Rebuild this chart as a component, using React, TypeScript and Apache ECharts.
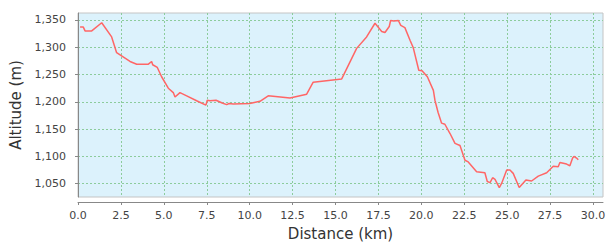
import React, { useEffect, useRef } from "react";
import * as echarts from "echarts";

const distanceKm = [
  0.12, 0.31, 0.41, 0.8, 1.38, 1.96, 2.25, 3.03, 3.42, 4.1, 4.29, 4.35, 4.62, 4.87, 5.26, 5.55, 5.65, 5.94, 6.33, 6.91,
  7.45, 7.53, 7.69, 8.04, 8.4, 8.66, 8.8, 9.04, 10.0, 10.6, 11.08, 12.35, 13.32, 13.7, 15.36, 16.23, 16.81, 17.3, 17.69,
  17.88, 18.13, 18.21, 18.4, 18.66, 18.8, 19.04, 19.34, 19.53, 19.85, 20.04, 20.35, 20.7, 20.79, 20.98, 21.18, 21.37,
  21.67, 21.96, 22.25, 22.54, 22.73, 23.22, 23.7, 23.84, 24.0, 24.15, 24.29, 24.54, 24.68, 24.97, 25.16, 25.35, 25.7,
  26.09, 26.42, 26.81, 27.3, 27.68, 27.97, 28.07, 28.46, 28.65, 28.81, 28.89, 29.04, 29.14,
];
const altitudeM = [
  1337, 1337, 1330, 1330, 1345, 1319, 1290, 1274, 1269, 1269, 1274, 1268, 1263, 1246, 1225, 1217, 1209, 1217, 1211, 1202,
  1194, 1203, 1202, 1203, 1198, 1195, 1197, 1196, 1197, 1201, 1211, 1207, 1214, 1236, 1242, 1298, 1319, 1344, 1329,
  1327, 1338, 1349, 1348, 1349, 1340, 1336, 1313, 1299, 1258, 1257, 1246, 1221, 1203, 1180, 1161, 1159,
  1142, 1124, 1120, 1093, 1090, 1072, 1070, 1054, 1052, 1061, 1058, 1043, 1051, 1075, 1075, 1069, 1043,
  1057, 1055, 1064, 1070, 1082, 1081, 1089, 1086, 1083, 1097, 1100, 1097, 1094,
];
const xTicks = [0, 2.5, 5, 7.5, 10, 12.5, 15, 17.5, 20, 22.5, 25, 27.5, 30];
const yTicks = [1050, 1100, 1150, 1200, 1250, 1300, 1350];

export default function App() {
  const ref = useRef<HTMLDivElement>(null);
  useEffect(() => {
    document.body.style.margin = "0";
    const chart = echarts.init(ref.current!, null, { renderer: "svg" });
    const green = "#8ccc9c";
    const font = "DejaVu Sans";
    chart.setOption({
      animation: false,
      grid: {
        left: 78,
        right: 13,
        top: 13,
        bottom: 54,
        show: true,
        backgroundColor: "#dcf2fc",
        borderColor: "#c4c4c4",
        borderWidth: 1,
      },
      xAxis: {
        type: "value",
        min: 0,
        max: 30.58,
        offset: 5,
        name: "Distance (km)",
        nameLocation: "middle",
        nameGap: 24,
        nameTextStyle: { fontFamily: font, fontSize: 15, color: "#333" },
        axisLine: { show: true, onZero: false, lineStyle: { color: "#888", width: 1 } },
        axisTick: { show: true, length: 3, customValues: xTicks, lineStyle: { color: "#888" } },
        axisLabel: {
          customValues: xTicks,
          formatter: (v: number) => v.toFixed(1),
          fontFamily: font,
          fontSize: 11,
          color: "#444",
          margin: 8,
        },
        splitLine: {
          show: true,
          lineStyle: {
            color: ["#4a5a9a", green, green, green, green, green, green, green, green, green, green, green, green],
            type: [2, 2],
            width: 1,
          },
        },
      },
      yAxis: {
        type: "value",
        min: 1025.7,
        max: 1362.8,
        offset: 6,
        name: "Altitude (m)",
        nameLocation: "middle",
        nameGap: 48,
        nameTextStyle: { fontFamily: font, fontSize: 15, color: "#333" },
        axisLine: { show: true, lineStyle: { color: "#888", width: 1 } },
        axisTick: { show: true, length: 3, customValues: yTicks, lineStyle: { color: "#888" } },
        axisLabel: {
          customValues: yTicks,
          formatter: (v: number) => v.toLocaleString("en-US"),
          fontFamily: font,
          fontSize: 11,
          color: "#444",
          margin: 6,
        },
        splitLine: { show: true, lineStyle: { color: green, type: [2, 2], width: 1 } },
      },
      series: [
        {
          type: "line",
          data: distanceKm.map((d, i) => [d, altitudeM[i]]),
          showSymbol: false,
          symbol: "none",
          lineStyle: { color: "#ff6666", width: 1.5 },
          itemStyle: { color: "#ff6666" },
        },
      ],
    });
    return () => chart.dispose();
  }, []);
  return <div ref={ref} style={{ width: 616, height: 251 }} />;
}
